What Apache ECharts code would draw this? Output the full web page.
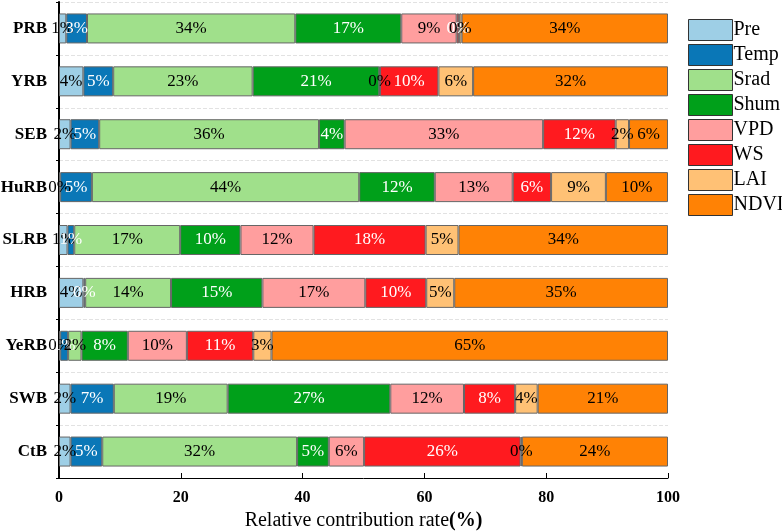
<!DOCTYPE html>
<html>
<head>
<meta charset="utf-8">
<script src="https://cdn.jsdelivr.net/npm/echarts@6/dist/echarts.min.js"></script>
<style>
  html, body { margin: 0; padding: 0; background: #fff; }
  #main { width: 782px; height: 531px; }
</style>
</head>
<body>
<div id="main"></div>
<script>
// basins, top to bottom
var basins = ['PRB', 'YRB', 'SEB', 'HuRB', 'SLRB', 'HRB', 'YeRB', 'SWB', 'CtB'];
var factors = ['Pre', 'Temp', 'Srad', 'Shum', 'VPD', 'WS', 'LAI', 'NDVI'];

// relative contribution (%) of each factor, one value per basin
var pre  = [1.2, 4.0, 1.9, 0.2, 1.4, 4.0, 0.2, 1.9, 1.9];
var temp = [3.4, 4.9, 4.7, 5.2, 1.1, 0.3, 1.3, 7.1, 5.2];
var srad = [34.2, 22.9, 36.1, 43.9, 17.4, 14.1, 2.2, 18.7, 32.0];
var shum = [17.4, 20.8, 4.2, 12.4, 9.9, 15.0, 7.6, 26.7, 5.2];
var vpd  = [9.1, 0.1, 32.6, 12.8, 12.0, 16.9, 9.7, 12.1, 5.8];
var ws   = [0.4, 9.6, 11.9, 6.3, 18.4, 10.0, 10.9, 8.4, 25.7];
var lai  = [0.4, 5.7, 2.2, 9.0, 5.4, 4.6, 3.0, 3.7, 0.2];
var ndvi = [33.9, 32.0, 6.4, 10.2, 34.4, 35.1, 65.1, 21.4, 24.0];

var xTicks = [0, 20, 40, 60, 80, 100];

var values = [pre, temp, srad, shum, vpd, ws, lai, ndvi];
var colors = ['#9ecfe6', '#0a77b7', '#a0e08b', '#00a01a', '#ff9e9e', '#ff1a1f', '#ffc175', '#ff8205'];
var labelColors = ['#000', '#fff', '#000', '#fff', '#000', '#fff', '#000', '#000'];

var serif = '"Liberation Serif", "Times New Roman", serif';

var chart = echarts.init(document.getElementById('main'));

var series = factors.map(function (name, i) {
  return {
    name: name,
    type: 'bar',
    stack: 'total',
    barWidth: 30,
    data: values[i],
    itemStyle: {
      color: colors[i],
      borderColor: '#666',
      borderWidth: 1
    },
    label: {
      show: true,
      position: 'inside',
      fontFamily: serif,
      fontSize: 17,
      color: labelColors[i],
      formatter: function (p) { return Math.round(p.value) + '%'; }
    }
  };
});

var option = {
  backgroundColor: '#fff',
  animation: false,
  legend: {
    orient: 'vertical',
    left: 683,
    top: 14,
    itemWidth: 44,
    itemHeight: 21,
    itemGap: 3,
    icon: 'rect',
    data: factors,
    itemStyle: { borderColor: '#333', borderWidth: 1 },
    textStyle: { fontFamily: serif, fontSize: 20, color: '#000', padding: [0, 0, 0, -4] }
  },
  grid: {
    left: 59,
    right: 114,
    top: 2,
    bottom: 53,
    containLabel: false,
    outerBoundsMode: 'none'
  },
  xAxis: {
    type: 'value',
    min: xTicks[0],
    max: xTicks[xTicks.length - 1],
    interval: 20,
    name: '{n|Relative contribution rate}{b|(%)}',
    nameLocation: 'middle',
    nameGap: 31,
    nameTextStyle: {
      rich: {
        n: { fontFamily: serif, fontSize: 20, color: '#000' },
        b: { fontFamily: serif, fontSize: 20, fontWeight: 'bold', color: '#000' }
      }
    },
    axisLine: { show: true, lineStyle: { color: '#000', width: 1 } },
    axisTick: { show: true, inside: true, length: 5, lineStyle: { color: '#000' } },
    axisLabel: { fontFamily: serif, fontSize: 16, fontWeight: 'bold', color: '#000', margin: 12 },
    splitLine: { show: false }
  },
  yAxis: {
    type: 'category',
    inverse: true,
    data: basins,
    axisLine: { show: true, lineStyle: { color: '#000', width: 2 } },
    axisTick: { show: true, length: 3, lineStyle: { color: '#000' } },
    axisLabel: { fontFamily: serif, fontSize: 17, fontWeight: 'bold', color: '#000', margin: 12 },
    splitLine: { show: true, lineStyle: { color: '#e2e2e2', type: 'dashed', width: 1 } }
  },
  series: series
};

chart.setOption(option);
</script>
</body>
</html>
